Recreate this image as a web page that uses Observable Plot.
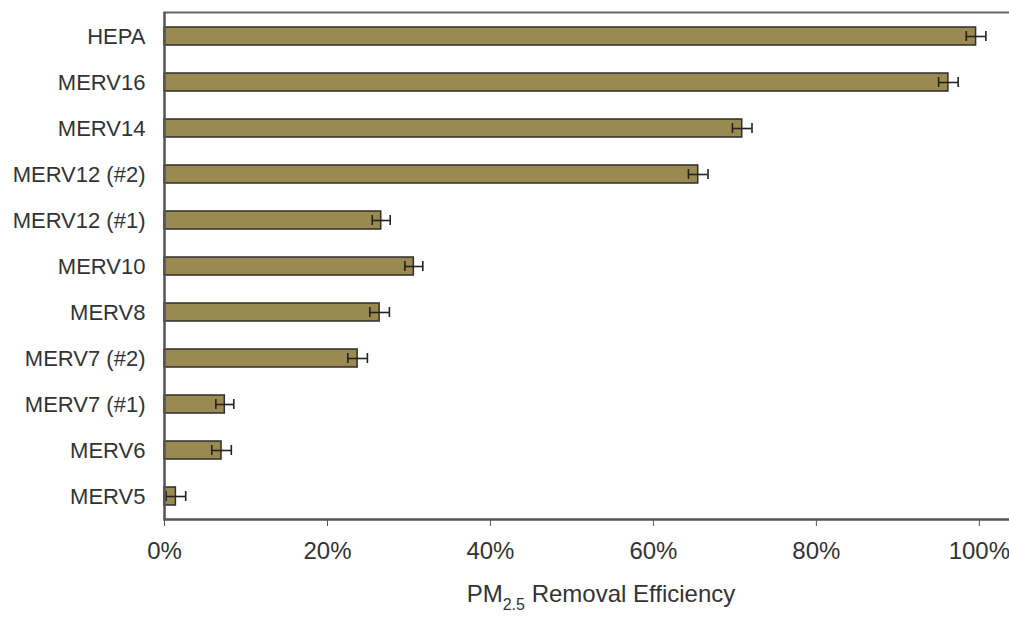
<!DOCTYPE html>
<html>
<head>
<meta charset="utf-8">
<script src="https://cdn.jsdelivr.net/npm/d3@7"></script>
<script src="https://cdn.jsdelivr.net/npm/@observablehq/plot@0.6"></script>
<style>
  html, body { margin: 0; padding: 0; background: #fff; overflow: hidden; }
</style>
</head>
<body>
<div id="chart"></div>
<script>
const categories = ["HEPA", "MERV16", "MERV14", "MERV12 (#2)", "MERV12 (#1)", "MERV10", "MERV8", "MERV7 (#2)", "MERV7 (#1)", "MERV6", "MERV5"];
const efficiency = [99.6, 96.2, 70.9, 65.5, 26.6, 30.6, 26.4, 23.7, 7.4, 7.0, 1.4];
const errors = [1.2, 1.2, 1.2, 1.2, 1.1, 1.1, 1.2, 1.2, 1.1, 1.2, 1.2];
const xTicks = [0, 20, 40, 60, 80, 100];
const xTitle = ["PM2.5 Removal Efficiency"];

const data = categories.map((c, i) => ({filter: c, eff: efficiency[i], err: errors[i]}));
const pct = d => d + "%";

const chart = Plot.plot({
  width: 1009,
  height: 618,
  marginLeft: 164,
  marginRight: 0,
  marginTop: 12,
  marginBottom: 99,
  style: {fontFamily: "'Liberation Sans', Arial, sans-serif", background: "white", color: "#333"},
  x: {domain: [0, 103.7], label: null},
  y: {domain: categories, paddingInner: 0.61, paddingOuter: 0.22, label: null},
  marks: [
    Plot.axisX({ticks: xTicks, tickFormat: pct, tickSize: 7, tickPadding: 15, fontSize: 24, stroke: "#555", label: null}),
    Plot.axisY({tickSize: 0, tickPadding: 19, fontSize: 22, label: null}),
    Plot.frame({anchor: "top", stroke: "#666", strokeWidth: 2}),
    Plot.frame({anchor: "bottom", stroke: "#555", strokeWidth: 2.5}),
    Plot.barX(data, {x: "eff", y: "filter", fill: "#9a8a52", stroke: "#2e2e28", strokeWidth: 1.5}),
    Plot.ruleY(data, {x1: d => d.eff - d.err, x2: d => d.eff + d.err, y: "filter", stroke: "#222", strokeWidth: 1.6}),
    Plot.tickX(data, {x: d => d.eff - d.err, y: "filter", insetTop: 4, insetBottom: 4, stroke: "#222", strokeWidth: 1.6}),
    Plot.tickX(data, {x: d => d.eff + d.err, y: "filter", insetTop: 4, insetBottom: 4, stroke: "#222", strokeWidth: 1.6}),
    Plot.ruleX([0], {stroke: "#555", strokeWidth: 2.5}),
    Plot.text(xTitle, {text: d => d, frameAnchor: "bottom", dx: 14, dy: 82, fontSize: 24, fill: "#333"})
  ]
});

document.getElementById("chart").appendChild(chart);

// Render the subscript in the axis title
d3.select(chart).selectAll("text").each(function () {
  const t = d3.select(this);
  const full = t.text();
  const m = full.match(/^PM(2\.5)( Removal Efficiency)$/);
  if (m) {
    t.text(null);
    t.append("tspan").text("PM");
    t.append("tspan").attr("font-size", 16).attr("dy", 8).text(m[1]);
    t.append("tspan").attr("dy", -8).text(m[2]);
  }
});
</script>
</body>
</html>
